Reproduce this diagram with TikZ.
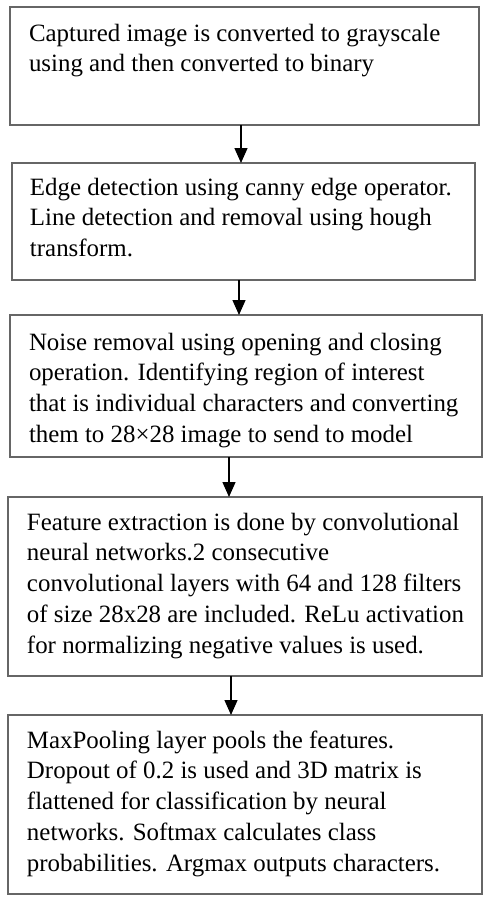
\documentclass[tikz,border=0pt]{standalone}
\usepackage{fontspec}
\setmainfont{Liberation Serif}
\usetikzlibrary{arrows.meta}
\newcommand{\boxtext}[1]{\parbox[t]{460pt}{\fontsize{24.9pt}{30.8pt}\selectfont\raggedright #1}}
\begin{document}
\begin{tikzpicture}[x=1pt,y=-1pt,
  flowbox/.style={draw=black!60, line width=1.3pt, inner sep=0pt, outer sep=0pt},
  boxlabel/.style={anchor=base west, inner sep=0pt, outer sep=0pt, text=black},
  arr/.style={draw=black, line width=1.3pt, -{Triangle[length=15pt,width=13pt]}}]
\useasboundingbox (0,0) rectangle (483,898);
\node[flowbox, minimum width=469pt, minimum height=118pt] (b1) at (244.5,66) {};
\node[flowbox, minimum width=463pt, minimum height=117pt] (b2) at (243.5,221.5) {};
\node[flowbox, minimum width=472pt, minimum height=142pt] (b3) at (246,386) {};
\node[flowbox, minimum width=474pt, minimum height=179pt] (b4) at (245,586.5) {};
\node[flowbox, minimum width=474pt, minimum height=179pt] (b5) at (245,804.5) {};
\node[boxlabel] (t1) at (29,41) {\boxtext{Captured image is converted to grayscale\\using and then converted to binary}};
\node[boxlabel] (t2) at (30,195) {\boxtext{Edge detection using canny edge operator.\\Line detection and removal using hough\\transform.}};
\node[boxlabel] (t3) at (29,350) {\boxtext{Noise removal using opening and closing\\operation. Identifying region of interest\\that is individual characters and converting\\them to 28×28 image to send to model}};
\node[boxlabel] (t4) at (27,530) {\boxtext{Feature extraction is done by convolutional\\neural networks.2 consecutive\\convolutional layers with 64 and 128 filters\\of size 28x28 are included. ReLu activation\\for normalizing negative values is used.}};
\node[boxlabel] (t5) at (27,748) {\boxtext{MaxPooling layer pools the features.\\Dropout of 0.2 is used and 3D matrix is\\flattened for classification by neural\\networks. Softmax calculates class\\probabilities. Argmax outputs characters.}};
\coordinate (a1) at (241,0);
\coordinate (a2) at (239,0);
\coordinate (a3) at (229,0);
\coordinate (a4) at (231,0);
\draw[arr] (b1.south -| a1) -- (b2.north -| a1);
\draw[arr] (b2.south -| a2) -- (b3.north -| a2);
\draw[arr] (b3.south -| a3) -- (b4.north -| a3);
\draw[arr] (b4.south -| a4) -- (b5.north -| a4);
\end{tikzpicture}
\end{document}
